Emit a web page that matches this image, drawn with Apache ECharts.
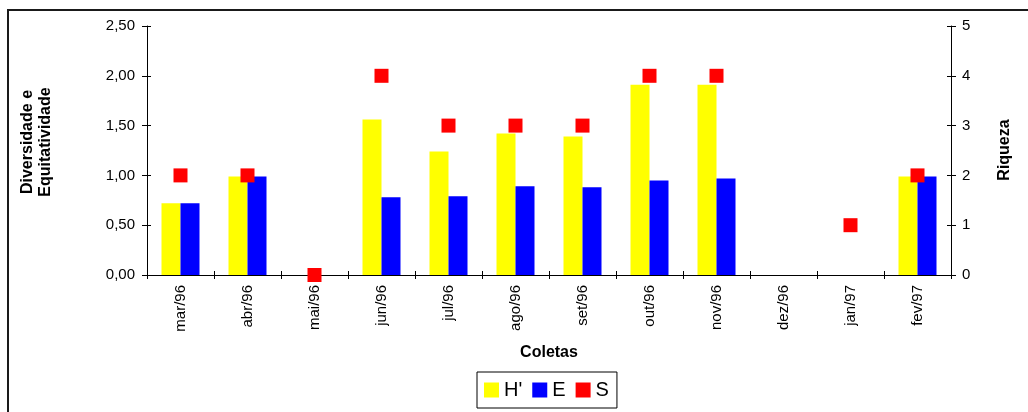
<!DOCTYPE html>
<html>
<head>
<meta charset="utf-8">
<script src="https://cdn.jsdelivr.net/npm/echarts@6/dist/echarts.min.js"></script>
<style>
  html, body { margin: 0; padding: 0; background: #fff; }
  #chart { width: 1028px; height: 412px; }
</style>
</head>
<body>
<div id="chart"></div>
<script>
// Monthly collections (Coletas)
const coletas = ['mar/96', 'abr/96', 'mai/96', 'jun/96', 'jul/96', 'ago/96',
                 'set/96', 'out/96', 'nov/96', 'dez/96', 'jan/97', 'fev/97'];
// Shannon diversity H'
const diversidadeH = [0.72, 0.99, 0, 1.56, 1.24, 1.42, 1.39, 1.91, 1.91, null, null, 0.99];
// Evenness E
const equitatividadeE = [0.72, 0.99, 0, 0.78, 0.79, 0.89, 0.88, 0.95, 0.97, null, null, 0.99];
// Species richness S
const riquezaS = [2, 2, 0, 4, 3, 3, 3, 4, 4, null, 1, 2];
// Axis ranges
const leftMax = 2.5, leftStep = 0.5;
const rightMax = 5, rightStep = 1;

const font = 'Liberation Sans, Arial, sans-serif';
const commaFmt = v => v.toFixed(2).replace('.', ',');

const chart = echarts.init(document.getElementById('chart'), null, { renderer: 'canvas' });

const baseY = {
  type: 'value', min: 0, splitLine: { show: false },
  axisLine: { show: true, lineStyle: { color: '#000', width: 1 } },
  axisLabel: { color: '#000', fontFamily: font, fontSize: 15, margin: 11 }
};
const titleStyle = { fontFamily: font, fontSize: 16, fontWeight: 'bold', fill: '#000' };

chart.setOption({
  animation: false,
  backgroundColor: '#fff',
  textStyle: { fontFamily: font },
  grid: { left: 147, right: 77, top: 26, bottom: 137, containLabel: false },
  legend: {
    left: 477, top: 372,
    itemWidth: 15, itemHeight: 15, itemGap: 10,
    padding: [8, 8, 8, 7],
    borderColor: '#000', borderWidth: 1,
    textStyle: { fontFamily: font, fontSize: 20, color: '#000' },
    data: [
      { name: "H'", icon: 'rect' },
      { name: 'E', icon: 'rect' },
      { name: 'S', icon: 'rect' }
    ]
  },
  xAxis: [
    {
      type: 'category', data: coletas, boundaryGap: true,
      name: 'Coletas', nameLocation: 'middle', nameGap: 70,
      nameTextStyle: { fontFamily: font, fontSize: 16, fontWeight: 'bold', color: '#000', verticalAlign: 'top' },
      axisLine: { lineStyle: { color: '#000', width: 1 } },
      axisTick: { show: true, inside: false, length: 4, lineStyle: { color: '#000' } },
      axisLabel: { rotate: 90, interval: 0, color: '#000', fontFamily: font, fontSize: 15, margin: 10 }
    },
    {
      type: 'category', data: coletas, boundaryGap: true, position: 'bottom',
      axisLine: { show: false },
      axisTick: { show: true, inside: true, length: 4, lineStyle: { color: '#000' } },
      axisLabel: { show: false }
    }
  ],
  yAxis: [
    Object.assign({}, baseY, {
      position: 'left', max: leftMax, interval: leftStep,
      axisTick: { show: true, length: 5, lineStyle: { color: '#000' } },
      axisLabel: Object.assign({}, baseY.axisLabel, { formatter: commaFmt, margin: 12 })
    }),
    Object.assign({}, baseY, {
      position: 'right', max: rightMax, interval: rightStep,
      axisTick: { show: true, length: 5, lineStyle: { color: '#000' } },
      axisLabel: Object.assign({}, baseY.axisLabel, { margin: 11 })
    }),
    Object.assign({}, baseY, {
      position: 'left', max: leftMax, interval: leftStep,
      axisLine: { show: false }, axisLabel: { show: false },
      axisTick: { show: true, inside: true, length: 4, lineStyle: { color: '#000' } }
    }),
    Object.assign({}, baseY, {
      position: 'right', max: rightMax, interval: rightStep,
      axisLine: { show: false }, axisLabel: { show: false },
      axisTick: { show: true, inside: true, length: 4, lineStyle: { color: '#000' } }
    })
  ],
  series: [
    {
      name: "H'", type: 'bar', xAxisIndex: 0, yAxisIndex: 0,
      data: diversidadeH, barWidth: 19, barGap: '0%',
      itemStyle: { color: '#FFFF00' }
    },
    {
      name: 'E', type: 'bar', xAxisIndex: 0, yAxisIndex: 0,
      data: equitatividadeE, barWidth: 19, barGap: '0%',
      itemStyle: { color: '#0000FF' }
    },
    {
      name: 'S', type: 'scatter', xAxisIndex: 0, yAxisIndex: 1,
      data: riquezaS, symbol: 'rect', symbolSize: 14, z: 5,
      itemStyle: { color: '#FF0000', opacity: 1 }
    }
  ],
  graphic: [
    {
      // outer chart frame (left and top edges fall inside the page)
      type: 'rect', silent: true, z: -1,
      shape: { x: 8, y: 10, width: 1100, height: 500 },
      style: { fill: null, stroke: '#1a1a1a', lineWidth: 2 }
    },
    {
      // left axis title, two lines, reading bottom to top
      type: 'text', silent: true, x: 37, y: 142, rotation: Math.PI / 2,
      style: Object.assign({}, titleStyle, {
        text: 'Diversidade e\nEquitatividade', align: 'center', verticalAlign: 'middle', lineHeight: 18
      })
    },
    {
      // right axis title
      type: 'text', silent: true, x: 1005, y: 150, rotation: Math.PI / 2,
      style: Object.assign({}, titleStyle, { text: 'Riqueza', align: 'center', verticalAlign: 'middle' })
    }
  ]
});
</script>
</body>
</html>
